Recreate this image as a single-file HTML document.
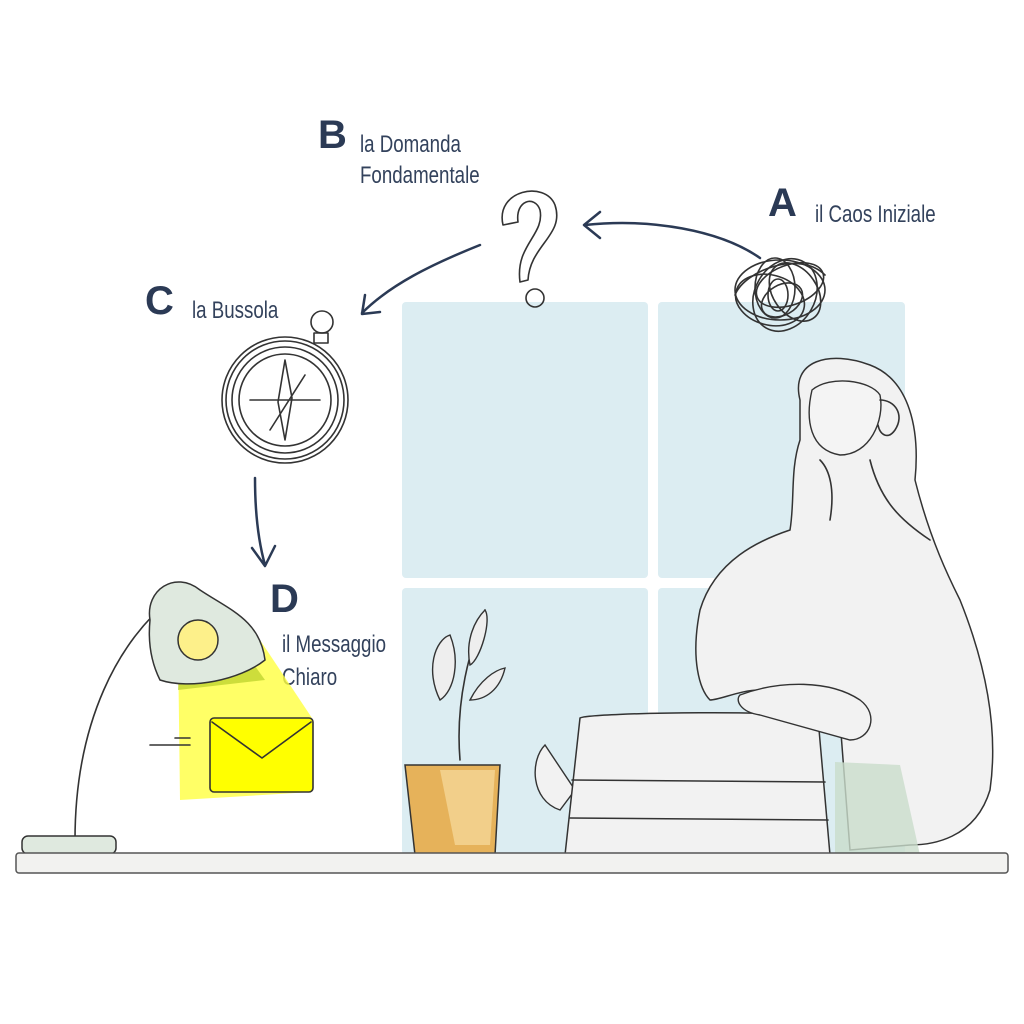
<!DOCTYPE html>
<html><head><meta charset="utf-8"><style>
html,body{margin:0;padding:0;background:#fff;width:1024px;height:1024px;overflow:hidden}
svg{display:block}
.t{font-family:"Liberation Sans",sans-serif;fill:#33425c;font-size:24px}
.L{font-family:"Liberation Sans",sans-serif;fill:#2b3a55;font-size:40px;font-weight:bold}
.s{fill:none;stroke:#333;stroke-width:1.6;stroke-linecap:round;stroke-linejoin:round}
.a{fill:none;stroke:#2b3a55;stroke-width:2.5;stroke-linecap:round;stroke-linejoin:round}
</style></head><body>
<svg width="1024" height="1024" viewBox="0 0 1024 1024">
<g fill="#dcedf2">
<rect x="402" y="302" width="246" height="276" rx="4"/>
<rect x="658" y="302" width="247" height="276" rx="4"/>
<rect x="402" y="588" width="246" height="267" rx="4"/>
<rect x="658" y="588" width="247" height="267" rx="4"/>
</g>
<text class="L" x="318" y="148">B</text>
<g transform="translate(360,152) scale(0.78,1)"><text class="t" x="0" y="0">la Domanda</text><text class="t" x="0" y="31">Fondamentale</text></g>
<text class="L" x="768" y="216">A</text>
<g transform="translate(815,222) scale(0.78,1)"><text class="t">il Caos Iniziale</text></g>
<text class="L" x="145" y="314">C</text>
<g transform="translate(192,318) scale(0.78,1)"><text class="t">la Bussola</text></g>
<text class="L" x="270" y="612">D</text>
<g transform="translate(282,652) scale(0.78,1)"><text class="t" x="0" y="0">il Messaggio</text><text class="t" x="0" y="33">Chiaro</text></g>
<path class="a" d="M760 258 C720 230 650 218 585 225 M600 212 L584 225 L600 238"/>
<path class="a" d="M480 245 C430 265 390 285 362 313 M365 295 L362 314 L380 312"/>
<path class="a" d="M255 478 C255 510 258 540 265 565 M252 548 L265 566 L275 546"/>
<path class="s" stroke-width="2.4" d="M503 225 C495 190 545 180 555 205 C565 235 530 245 528 280 L520 282 C515 245 545 235 540 210 C535 195 515 200 518 222 Z"/>
<circle class="s" stroke-width="2.4" cx="535" cy="298" r="9"/>
<g class="s" stroke-width="1.4">
<ellipse cx="780" cy="290" rx="45" ry="30"/><ellipse cx="785" cy="295" rx="30" ry="38" transform="rotate(30 785 295)"/>
<ellipse cx="775" cy="288" rx="20" ry="30"/><ellipse cx="790" cy="285" rx="35" ry="20" transform="rotate(-20 790 285)"/>
<ellipse cx="782" cy="300" rx="15" ry="22" transform="rotate(60 782 300)"/><path d="M735 295 C745 270 800 250 825 275"/>
<ellipse cx="770" cy="300" rx="35" ry="25" transform="rotate(15 770 300)"/><ellipse cx="795" cy="292" rx="22" ry="32" transform="rotate(-35 795 292)"/>
<ellipse cx="778" cy="295" rx="10" ry="16"/>
</g>
<g class="s" stroke-width="1.8">
<circle cx="322" cy="322" r="11"/><rect x="314" y="333" width="14" height="10"/>
<circle cx="285" cy="400" r="63"/><circle cx="285" cy="400" r="59"/><circle cx="285" cy="400" r="53"/><circle cx="285" cy="400" r="46"/>
<path d="M285 360 L292 398 L285 440 L278 402 Z M250 400 L320 400 M305 375 L270 430"/>
</g>
<polygon points="178,640 250,625 312,718 312,792 180,800" fill="#ffff40" opacity="0.8"/>
<path d="M180 650 L240 645 L265 680 L178 690 Z" fill="#b8cf2a" opacity="0.7"/>
<path class="s" d="M170 600 C120 640 75 720 75 840"/>
<path d="M150 620 C145 590 175 570 200 590 C230 610 260 620 265 660 C240 680 190 690 160 680 C150 660 148 640 150 620 Z" fill="#dfe9df" stroke="#333" stroke-width="1.5"/>
<circle cx="198" cy="640" r="20" fill="#fdf08a" stroke="#333" stroke-width="1.5"/>
<rect x="22" y="836" width="94" height="18" rx="6" fill="#dfe9df" stroke="#333" stroke-width="1.5"/>
<rect x="210" y="718" width="103" height="74" rx="4" fill="#ffff00" stroke="#333" stroke-width="1.6"/>
<path class="s" d="M212 722 L262 758 L311 722"/>
<path class="s" d="M150 745 L190 745 M175 738 L190 738"/>
<path class="s" d="M460 760 C455 700 470 650 485 610"/>
<path d="M440 700 C425 670 435 640 450 635 C460 660 455 690 440 700 Z M485 610 C492 620 480 660 470 665 C465 640 475 620 485 610 Z M470 700 C480 680 495 670 505 668 C500 690 485 700 470 700 Z" fill="#eee" stroke="#333" stroke-width="1.4"/>
<path d="M405 765 L500 765 L495 855 L415 855 Z" fill="#e6b25a" stroke="#333" stroke-width="1.5"/>
<path d="M440 770 L495 770 L490 845 L455 845 Z" fill="#f2cf8a"/>
<path d="M800 400 C790 360 830 350 870 365 C910 380 920 430 915 480 C930 540 950 580 960 600 C980 650 1000 720 990 790 C975 840 930 845 910 845 L850 850 L840 720 C820 700 780 690 760 690 C740 690 720 700 710 700 C700 690 690 660 700 610 C715 560 760 540 790 530 C795 500 790 470 800 440 Z" fill="#f2f2f2" stroke="#333" stroke-width="1.5"/>
<path d="M812 390 C805 420 810 450 840 455 C870 455 885 420 880 395 C870 380 830 375 812 390 Z" fill="#f4f4f4" stroke="#333" stroke-width="1.4"/>
<path class="s" d="M880 400 C895 400 905 415 895 430 C888 440 880 435 878 425 M820 460 C830 470 835 490 830 520 M870 460 C880 500 900 520 930 540"/>
<path d="M835 762 L900 765 L920 855 L835 855 Z" fill="#c9dccb" opacity="0.8"/>
<path d="M545 745 C530 760 530 800 560 810 L575 790 Z" fill="#f2f2f2" stroke="#333" stroke-width="1.4"/>
<path d="M580 718 C590 712 810 710 818 718 L830 855 L565 855 Z" fill="#f2f2f2" stroke="#333" stroke-width="1.5"/>
<path class="s" d="M572 780 L825 782 M570 818 L828 820"/>
<path d="M740 695 C780 680 830 680 860 700 C880 715 870 740 850 740 L760 715 C740 712 735 700 740 695 Z" fill="#f2f2f2" stroke="#333" stroke-width="1.4"/>
<rect x="16" y="853" width="992" height="20" rx="3" fill="#f2f2f0" stroke="#555" stroke-width="1.5"/>
</svg>
</body></html>
